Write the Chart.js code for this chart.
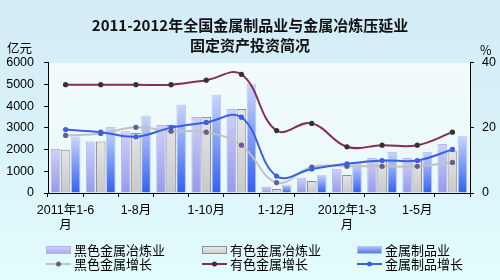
<!DOCTYPE html>
<html><head><meta charset="utf-8">
<script src="https://cdn.jsdelivr.net/npm/chart.js@4.4.1/dist/chart.umd.min.js"></script>
<style>
html,body{margin:0;padding:0;background:#dcf3f7;}
#wrap{position:relative;width:500px;height:280px;overflow:hidden;}
</style>
</head><body>
<div id="wrap"><canvas id="c" width="500" height="280"></canvas></div>
<script>
// ---- data ----
const categories = ["2011年1-6月","2011年1-7月","2011年1-8月","2011年1-9月","2011年1-10月","2011年1-11月","2011年1-12月","2012年1-2月","2012年1-3月","2012年1-4月","2012年1-5月","2012年1-6月"];
const xTickLabels = [["2011年1-6","月"],"","1-8月","","1-10月","","1-12月","",["2012年1-3","月"],"","1-5月",""];
const ferrousInvest    = [2030, 2370, 2845, 3140, 3510, 3875, 290, 705, 1120, 1615, 1615, 2260];
const nonferrousInvest = [2000, 2370, 2770, 3140, 3510, 3875, 185, 550, 830, 1500, 1480, 1920];
const metalProdInvest  = [2610, 3045, 3570, 4075, 4535, 5045, 385, 845, 1385, 1890, 1890, 2645];
const ferrousGrowth    = [17.7, 18.3, 20.2, 19.0, 18.7, 14.7, 3.2, 8.0, 8.2, 8.2, 8.2, 9.4];
const nonferrousGrowth = [33.3, 33.3, 33.3, 33.3, 34.7, 36.5, 19.2, 21.4, 14.2, 14.7, 14.7, 18.7];
const metalProdGrowth  = [19.5, 18.7, 17.3, 20.1, 21.7, 23.3, 5.2, 7.4, 9.0, 10.0, 10.0, 13.4];
const leftTicks = [0, 1000, 2000, 3000, 4000, 5000, 6000];
const rightTicks = [0, 20, 40];
const titleLines = ["2011-2012年全国金属制品业与金属冶炼压延业", "固定资产投资简况"];
const seriesNames = ["黑色金属冶炼业","有色金属冶炼业","金属制品业","黑色金属增长","有色金属增长","金属制品增长"];

const FONT = '"Liberation Sans", Arial, "Noto Sans CJK SC", sans-serif';

function barGrad(top, bottom) {
  return (ctx) => {
    const chart = ctx.chart;
    if (ctx.type !== 'data') return bottom;
    const ya = chart.scales && chart.scales.y;
    if (!ya) return bottom;
    const yTop = ya.getPixelForValue(ctx.raw);
    const yBase = ya.getPixelForValue(0);
    if (!isFinite(yTop) || !isFinite(yBase) || Math.abs(yBase - yTop) < 1) return bottom;
    const g = chart.ctx.createLinearGradient(0, yTop, 0, yBase);
    g.addColorStop(0, top);
    g.addColorStop(1, bottom);
    return g;
  };
}

const bgPlugin = {
  id: 'bg',
  beforeDraw(chart) {
    const c = chart.ctx, a = chart.chartArea;
    c.save();
    let g = c.createLinearGradient(0, 0, 0, chart.height);
    g.addColorStop(0, '#d2ebf6');
    g.addColorStop(1, '#e2fbfb');
    c.fillStyle = g;
    c.fillRect(0, 0, chart.width, chart.height);
    g = c.createLinearGradient(0, a.top, 0, a.bottom);
    g.addColorStop(0, '#f2fbfd');
    g.addColorStop(1, '#e9f9fa');
    c.fillStyle = g;
    c.fillRect(a.left, a.top, a.right - a.left, a.bottom - a.top);
    c.restore();
  },
  afterDraw(chart) {
    const c = chart.ctx;
    c.save();
    c.fillStyle = '#000';
    c.font = '12.5px "Noto Sans CJK SC", sans-serif';
    c.textBaseline = 'middle';
    c.textAlign = 'left';
    c.fillText('亿元', 7, 48);
    c.fillText('%', 480, 50);
    const colX = [46, 202, 357];
    const rowY = [250, 264];
    chart.data.datasets.forEach((ds, i) => {
      const col = i % 3, row = Math.floor(i / 3);
      const x = colX[col], y = rowY[row];
      if (ds.type === 'bar') {
        const g = c.createLinearGradient(0, y - 4, 0, y + 4);
        g.addColorStop(0, ds.legendTop);
        g.addColorStop(1, ds.legendBottom);
        c.fillStyle = g;
        c.fillRect(x, y - 4, 25, 8);
        c.strokeStyle = ds.borderColor;
        c.lineWidth = 1;
        c.strokeRect(x + 0.5, y - 3.5, 24, 7);
      } else {
        c.strokeStyle = ds.borderColor;
        c.lineWidth = 2;
        c.beginPath(); c.moveTo(x, y); c.lineTo(x + 25, y); c.stroke();
        c.fillStyle = ds.pointBackgroundColor;
        c.beginPath(); c.arc(x + 12.5, y, 2.5, 0, Math.PI * 2); c.fill();
      }
      c.fillStyle = '#000';
      c.font = '13px "Noto Sans CJK SC", sans-serif';
      c.textAlign = 'left';
      c.textBaseline = 'middle';
      c.fillText(ds.label, x + 28, y);
    });
    c.restore();
  }
};

const barCommon = { type: 'bar', yAxisID: 'y', order: 5, barPercentage: 0.95, categoryPercentage: 0.86, borderWidth: 1 };
const lineCommon = { type: 'line', yAxisID: 'y2', tension: 0.4, borderWidth: 2, pointRadius: 2.6, pointBorderWidth: 0, fill: false };

new Chart(document.getElementById('c'), {
  data: {
    labels: categories,
    datasets: [
      Object.assign({}, barCommon, { label: seriesNames[0], data: ferrousInvest,
        backgroundColor: barGrad('rgba(206,207,247,0.95)', 'rgba(146,148,234,0.95)'), borderColor: '#b4b5ee',
        legendTop: '#d4d4f8', legendBottom: '#a3a4ee' }),
      Object.assign({}, barCommon, { label: seriesNames[1], data: nonferrousInvest,
        backgroundColor: barGrad('rgba(228,228,228,0.95)', 'rgba(198,198,200,0.95)'), borderColor: '#8f8f8f',
        legendTop: '#e8e8e8', legendBottom: '#cccccc' }),
      Object.assign({}, barCommon, { label: seriesNames[2], data: metalProdInvest,
        backgroundColor: barGrad('rgba(200,212,248,0.95)', 'rgba(44,90,240,0.97)'), borderColor: 'rgba(180,195,245,0.9)',
        legendTop: '#b9c8f6', legendBottom: '#4a72ee' }),
      Object.assign({}, lineCommon, { label: seriesNames[3], data: ferrousGrowth, order: 2,
        borderColor: '#c2c2c2', pointBackgroundColor: '#6a5c8c', pointBorderColor: '#6a5c8c' }),
      Object.assign({}, lineCommon, { label: seriesNames[4], data: nonferrousGrowth, order: 1,
        borderColor: '#8c2a56', pointBackgroundColor: '#333333', pointBorderColor: '#333333' }),
      Object.assign({}, lineCommon, { label: seriesNames[5], data: metalProdGrowth, order: 0,
        borderColor: '#3a5ee6', pointBackgroundColor: '#3a5ee6', pointBorderColor: '#3a5ee6' })
    ]
  },
  options: {
    responsive: false,
    animation: false,
    devicePixelRatio: 1,
    layout: { padding: { left: 0, right: 0, top: 0, bottom: 0 } },
    plugins: {
      legend: { display: false },
      tooltip: { enabled: false },
      title: {
        display: true,
        text: titleLines,
        color: '#111',
        font: { family: '"Noto Sans CJK SC", sans-serif', size: 15, weight: 'bold', lineHeight: 1.33 },
        padding: { top: 15, bottom: 8 }
      }
    },
    scales: {
      x: {
        type: 'category',
        offset: true,
        border: { display: true, color: '#000', width: 1 },
        grid: { display: true, drawOnChartArea: false, offset: true, color: '#000', tickLength: 4 },
        ticks: {
          autoSkip: false, maxRotation: 0, minRotation: 0, padding: 6, color: '#000',
          font: { family: FONT, size: 12.5, lineHeight: 1.2 },
          callback: (v, i) => xTickLabels[i]
        },
        afterFit: s => { s.height = 87; }
      },
      y: {
        position: 'left', min: 0, max: 6000,
        afterBuildTicks: s => { s.ticks = leftTicks.map(v => ({ value: v })); },
        border: { display: true, color: '#000', width: 1 },
        grid: { display: true, drawOnChartArea: false, color: '#000', tickLength: 4 },
        ticks: { color: '#000', padding: 10, font: { family: FONT, size: 12.5 }, callback: v => String(v) },
        afterFit: s => { s.width = 48; }
      },
      y2: {
        position: 'right', min: 0, max: 40,
        afterBuildTicks: s => { s.ticks = rightTicks.map(v => ({ value: v })); },
        border: { display: true, color: '#000', width: 1 },
        grid: { display: true, drawOnChartArea: false, color: '#000', tickLength: 4 },
        ticks: { color: '#000', padding: 8, font: { family: FONT, size: 12.5 }, callback: v => String(v) },
        afterFit: s => { s.width = 30; }
      }
    }
  },
  plugins: [bgPlugin]
});
</script>
</body></html>
